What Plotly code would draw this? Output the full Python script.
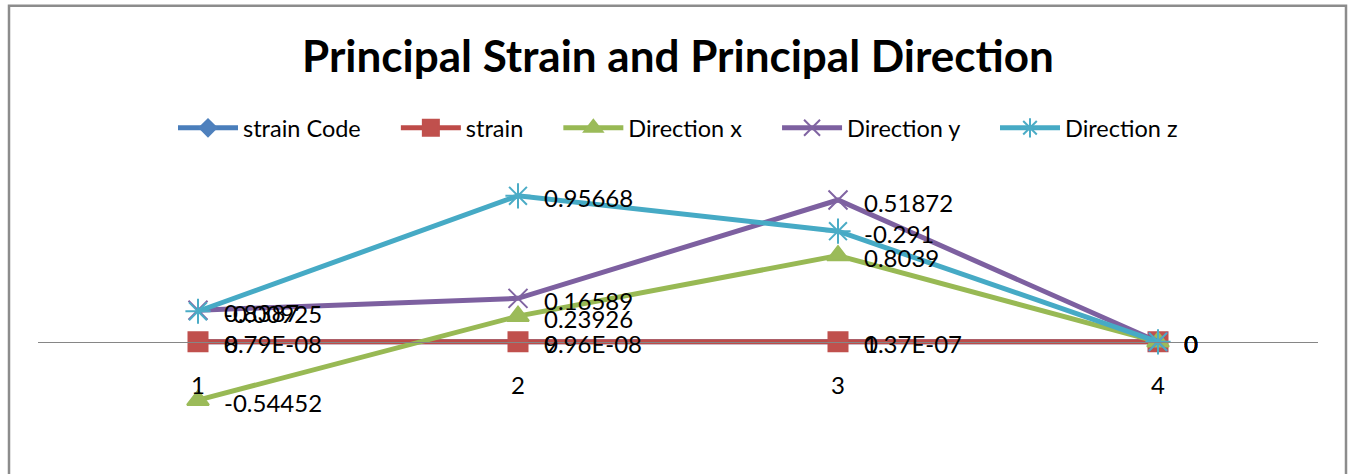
import numpy as np
import plotly.graph_objects as go

# Point categories along the horizontal axis
categories = ["1", "2", "3", "4"]

# Series values (stacked line chart, in drawing order)
strain_code = [0, 0, 0, 0]
strain = [8.79e-08, 9.96e-08, 1.37e-07, 0]
direction_x = [-0.54452, 0.23926, 0.8039, 0]
direction_y = [0.8387, 0.16589, 0.51872, 0]
direction_z = [-0.00925, 0.95668, -0.291, 0]

series_names = ["strain Code", "strain", "Direction x", "Direction y", "Direction z"]
series_values = [strain_code, strain, direction_x, direction_y, direction_z]

line_colors = ["#4A7EBB", "#BE4B48", "#98B954", "#7D60A0", "#46AAC5"]
marker_colors = ["#4F81BD", "#C0504D", "#9BBB59", "#8064A2", "#4BACC6"]
symbols = ["diamond", "square", "triangle-up", "x-thin-open", "asterisk-open"]
sizes = [13, 19, 19, 19, 21]

FONT = "Lato"
W, H = 1351, 474
Y_RANGE = [-1.0, 1.5]
M = dict(l=38, r=33, t=180.75, b=24.5)
LEGEND_PAD = "\u00a0" * 5


def general_format(v):
    """Format a number the way a spreadsheet's General format shows it."""
    if v == 0:
        return "0"
    if abs(v) < 1e-4:
        return f"{v:.2E}"
    return f"{v:.5f}".rstrip("0").rstrip(".")


stacked = np.cumsum(np.array(series_values, dtype=float), axis=0)

fig = go.Figure()
annotations = []
for i, name in enumerate(series_names):
    shown_name = name + (LEGEND_PAD if i < len(series_names) - 1 else "")
    fig.add_trace(go.Scatter(
        x=categories,
        y=stacked[i],
        name=shown_name,
        mode="lines+markers",
        line=dict(color=line_colors[i], width=5),
        marker=dict(
            symbol=symbols[i],
            size=sizes[i],
            color=marker_colors[i],
            line=dict(color=marker_colors[i], width=2),
        ),
        cliponaxis=False,
    ))
    # data labels to the right of each point, showing the series' own value
    for j, (ys, raw) in enumerate(zip(stacked[i], series_values[i])):
        annotations.append(dict(
            x=j, y=ys, xref="x", yref="y",
            text=general_format(raw),
            showarrow=False,
            xanchor="left", yanchor="middle",
            xshift=24, yshift=-2,
            font=dict(family=FONT, size=24, color="#000000"),
        ))

plot_w = W - M["l"] - M["r"]
plot_h = H - M["t"] - M["b"]


def px_to_paper_x(px):
    return (px - M["l"]) / plot_w


def px_to_paper_y(py):
    return (H - M["b"] - py) / plot_h


# Outer chart frame
shapes = [dict(
    type="rect", xref="paper", yref="paper",
    x0=px_to_paper_x(9), x1=px_to_paper_x(1346),
    y0=px_to_paper_y(490), y1=px_to_paper_y(5),
    line=dict(color="#8C8C8C", width=2.5),
    fillcolor="rgba(0,0,0,0)",
)]

zero_pos = -Y_RANGE[0] / (Y_RANGE[1] - Y_RANGE[0])

fig.update_layout(
    width=W, height=H,
    margin=M,
    paper_bgcolor="#FFFFFF",
    plot_bgcolor="#FFFFFF",
    title=dict(
        text="Principal Strain and Principal Direction",
        x=0.5, xref="paper", xanchor="center",
        y=1 - 57 / H, yref="container", yanchor="middle",
        font=dict(family=FONT, size=44, color="#000000", weight="bold"),
    ),
    legend=dict(
        orientation="h",
        x=0.5, xref="paper", xanchor="center",
        y=1 - 128 / H, yref="container", yanchor="middle",
        font=dict(family=FONT, size=23.5, color="#000000"),
        itemwidth=60,
        tracegroupgap=0,
        bgcolor="rgba(0,0,0,0)",
    ),
    xaxis=dict(
        type="category",
        range=[-0.5, len(categories) - 0.5],
        anchor="free", position=zero_pos,
        showline=True, linecolor="#868686", linewidth=1.3,
        showgrid=False, zeroline=False, ticks="",
        ticklabelstandoff=22,
        tickfont=dict(family=FONT, size=24, color="#000000"),
    ),
    yaxis=dict(
        range=Y_RANGE,
        visible=False,
        showgrid=False, zeroline=False,
    ),
    annotations=annotations,
    shapes=shapes,
    showlegend=True,
)

fig.write_html("out.html")
